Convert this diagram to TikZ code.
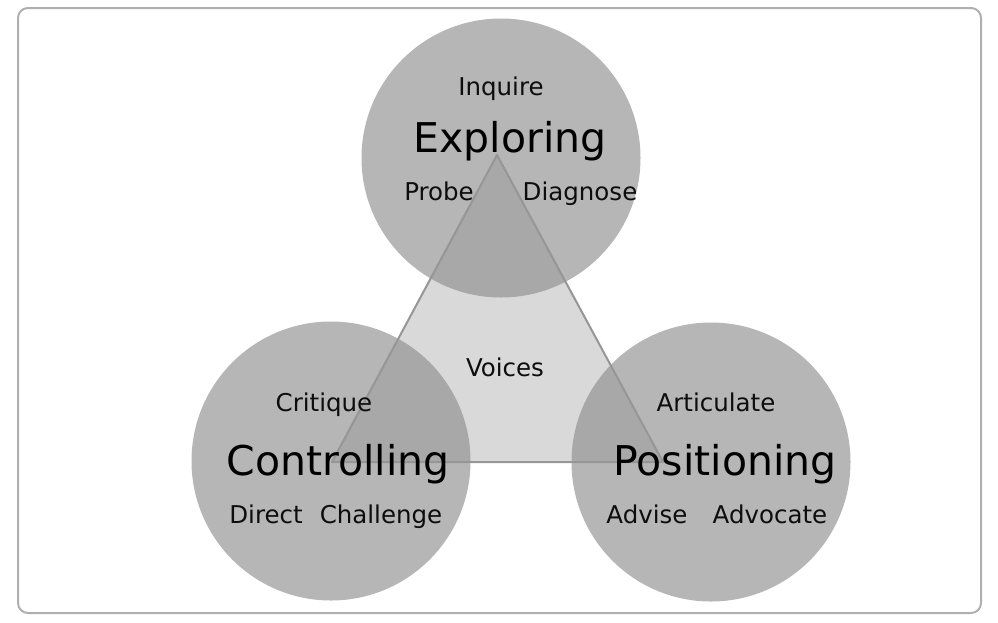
\documentclass[tikz,border=0pt]{standalone}
\usepackage{fontspec}
\setmainfont{DejaVu Sans}
\definecolor{circlegray}{RGB}{144,144,144}
\definecolor{trigray}{RGB}{217,217,217}
\definecolor{linegray}{RGB}{150,150,150}
\definecolor{framegray}{RGB}{175,175,175}

\begin{document}
\begin{tikzpicture}[x=1pt, y=-1pt,
    voice/.style={circle, fill=circlegray, fill opacity=0.66, minimum size=279pt, inner sep=0pt},
    big/.style={anchor=base, font=\fontsize{41}{48}\selectfont, text=black},
    small/.style={anchor=base, font=\fontsize{24.5}{30}\selectfont, text=black!95},
    edge/.style={draw=linegray, line width=2pt, line join=round},
    frame/.style={draw=framegray, line width=2pt, rounded corners=10pt}]

    \useasboundingbox (0,0) rectangle (998,622);
    \draw[frame] (18,8) rectangle (981,613);

    %define the corners of the triangle
    \coordinate (t1) at (497,155);
    \coordinate (t2) at (332,462);
    \coordinate (t3) at (663,462);
    \fill[trigray] (t1) -- (t2) -- (t3) -- cycle;

    %define the circles
    \node[voice] (explore)  at (501,158) {};
    \node[voice] (control)  at (331,461) {};
    \node[voice] (position) at (711,462) {};

    % triangle outline
    \draw[edge] (t1) -- (t2) -- (t3) -- cycle;

    % labels of the circles
    \node[small] (inquire)    at (501,95)  {Inquire};
    \node[big]   (exploring)  at (510,152) {Exploring};
    \node[small] (probe)      at (439,200) {Probe};
    \node[small] (diagnose)   at (580,200) {Diagnose};

    \node[small] (critique)   at (324,411) {Critique};
    \node[big]   (controlling) at (338,475) {Controlling};
    \node[small] (direct)     at (266,523) {Direct};
    \node[small] (challenge)  at (381,523) {Challenge};

    \node[small] (articulate) at (716,411) {Articulate};
    \node[big]   (positioning) at (725,475) {Positioning};
    \node[small] (advise)     at (647,523) {Advise};
    \node[small] (advocate)   at (770,523) {Advocate};

    \node[small] (voices)     at (505,376) {Voices};
\end{tikzpicture}
\end{document}
